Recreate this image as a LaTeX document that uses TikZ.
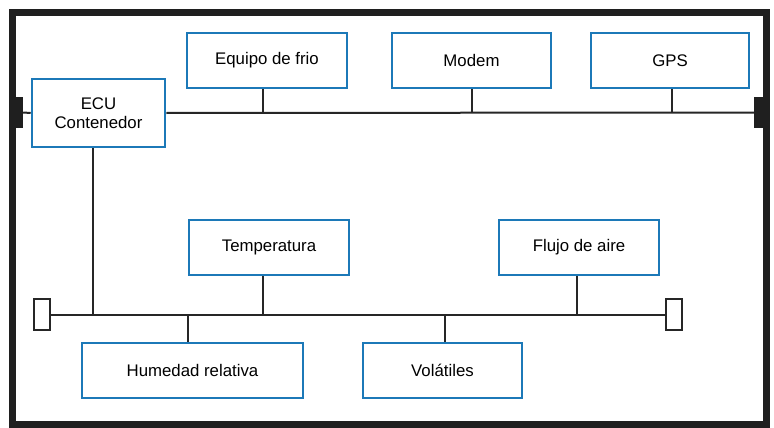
\documentclass[tikz,border=0pt]{standalone}
\usepackage{fontspec}
\setmainfont{Liberation Sans}
\definecolor{boxblue}{RGB}{28,121,184}
\begin{document}
\begin{tikzpicture}[x=1pt,y=-1pt,
  box/.style={draw=boxblue,line width=2.6pt,fill=white,inner sep=0pt,font=\fontsize{16.8}{18.5}\selectfont,align=center},
  wire/.style={draw=black!85,line width=2pt},
  endcap/.style={draw=black!85,line width=2pt,fill=white,inner sep=0pt,minimum width=16pt,minimum height=31pt},
  tabblk/.style={fill=black!88,inner sep=0pt,minimum width=10pt,minimum height=31pt}]
\useasboundingbox (0,0) rectangle (774,428);
\fill[white] (0,0) rectangle (774,428);
\draw[black!88,line width=7pt] (12.5,12.5) rectangle (766,424.5);
% tabs
\node[tabblk] (tl) at (18,112.5) {};
\node[tabblk] (tr) at (759,112.5) {};
% top boxes
\node[box,minimum width=133pt,minimum height=68pt] (ecu) at (98.5,113) {ECU\\Contenedor};
\node[box,minimum width=160pt,minimum height=55pt] (eq) at (267,60.5) {Equipo de frio};
\node[box,minimum width=159pt,minimum height=55pt] (mo) at (471.5,60.5) {Modem};
\node[box,minimum width=158pt,minimum height=55pt] (gps) at (670,60.5) {GPS};
% top bus
\coordinate (bus1) at (263,113);
\coordinate (bus2) at (472,113);
\coordinate (bus3) at (672,113);
\draw[wire] (tl.east) -- (ecu.west);
\draw[wire] (ecu.east) -- (tr.west);
\draw[wire] (eq.south -| bus1) -- (bus1);
\draw[wire] (mo.south -| bus2) -- (bus2);
\draw[wire] (gps.south -| bus3) -- (bus3);
% bottom bus
\node[endcap] (cl) at (42,314.5) {};
\node[endcap] (cr) at (674,314.5) {};
\node[box,minimum width=160pt,minimum height=55pt] (te) at (269,247.5) {Temperatura};
\node[box,minimum width=160pt,minimum height=55pt] (fl) at (579,247.5) {Flujo de aire};
\node[box,minimum width=221pt,minimum height=55pt] (hu) at (192.5,370.5) {Humedad relativa};
\node[box,minimum width=159pt,minimum height=55pt] (vo) at (442.5,370.5) {Volátiles};
\coordinate (b0) at (93,314);
\coordinate (b1) at (188,314);
\coordinate (b2) at (263,314);
\coordinate (b3) at (445,314);
\coordinate (b4) at (577,314);
\draw[wire] (cl.east) -- (cr.west);
\draw[wire] (ecu.south -| b0) -- (b0);
\draw[wire] (hu.north -| b1) -- (b1);
\draw[wire] (te.south -| b2) -- (b2);
\draw[wire] (vo.north -| b3) -- (b3);
\draw[wire] (fl.south -| b4) -- (b4);
\end{tikzpicture}
\end{document}
